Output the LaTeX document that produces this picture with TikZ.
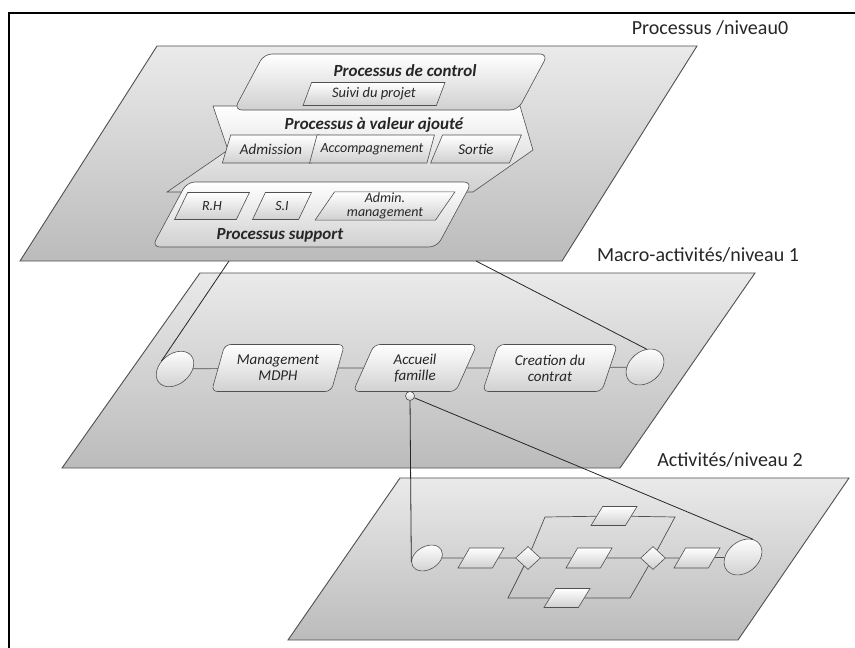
\documentclass[tikz,border=0pt]{standalone}
\usepackage{fontspec}
\setmainfont{Carlito}
\usetikzlibrary{shapes.geometric}

\definecolor{planelight}{HTML}{EAEAEA}
\definecolor{planedark}{HTML}{BBBBBB}
\definecolor{boxline}{HTML}{505050}
\definecolor{boxshade}{HTML}{D0D0D0}
\definecolor{txtgray}{HTML}{262626}

\tikzset{
  plane/.style={draw=boxline, line width=0.9pt, top color=planelight, bottom color=planedark},
  proc/.style={draw=boxline, line width=0.6pt, top color=white, bottom color=boxshade},
  link/.style={draw=black!85, line width=0.8pt},
  flow/.style={draw=boxline, line width=0.7pt},
  lvltext/.style={font=\fontsize{20}{24}\selectfont, text=txtgray},
  titletext/.style={font=\fontsize{17}{18}\selectfont\bfseries\itshape, text=txtgray},
  subbox/.style={proc, trapezium, trapezium left angle=62, trapezium right angle=118,
    trapezium stretches=true, inner sep=1pt, align=center,
    font=\fontsize{14}{14}\selectfont\itshape, text=txtgray},
  macrobox/.style={proc, trapezium, trapezium left angle=69, trapezium right angle=111,
    trapezium stretches=true, rounded corners=6pt, minimum height=47, inner sep=1pt,
    align=center, font=\fontsize{15}{16}\selectfont\itshape, text=txtgray},
  actbox/.style={proc, trapezium, trapezium left angle=63, trapezium right angle=117,
    trapezium stretches=true, minimum width=46, minimum height=20, inner sep=2pt},
  evt/.style={proc, ellipse, inner sep=0pt},
  gate/.style={proc, diamond, minimum width=25, minimum height=23, inner sep=0pt},
}

\begin{document}
\begin{tikzpicture}[x=1pt, y=-1pt]
\useasboundingbox (0,0) rectangle (855,648);
\clip (0,0) rectangle (855,648);
\draw[line width=2.2pt] (9,660) -- (9,13) -- (870,13);

% niveau 0
\draw[plane] (157,46) -- (697,46) -- (562,261) -- (20,261) -- cycle;
\node[lvltext] (lab0) at (710,28) {Processus /niveau0};
\draw[proc] (213,106) -- (520,106) -- (533,150) -- (473,192) -- (167,192) -- (228,150) -- cycle;
\draw[proc, rounded corners=8pt] (264,54) -- (548,54) -- (518,110) -- (234,110) -- cycle;
\draw[proc, rounded corners=8pt] (187,182) -- (472,182) -- (437,247) -- (152,247) -- cycle;
\node[titletext] (tctrl) at (405,71) {Processus de control};
\node[subbox, minimum width=143, minimum height=23, trapezium left angle=68,
  trapezium right angle=112, font=\fontsize{14.5}{15}\selectfont\itshape] (suivi) at (374,94) {Suivi du projet};
\node[titletext] (tval) at (374,125) {Processus à valeur ajouté};
\node[subbox, minimum width=98, minimum height=28, font=\fontsize{15}{15}\selectfont\itshape] (admis) at (271,149) {Admission};
\node[subbox, minimum width=125, minimum height=28] (accomp) at (372,149) {Accompagnement};
\node[subbox, minimum width=91, minimum height=28, font=\fontsize{15}{15}\selectfont\itshape] (sortie) at (476,149) {Sortie};
\node[subbox, minimum width=75, minimum height=27] (rh) at (212,206) {R.H};
\node[subbox, minimum width=59, minimum height=27] (si) at (282,206) {S.I};
\node[subbox, minimum width=140, minimum height=27] (admin) at (385,206) {Admin.\\management};
\node[titletext] (tsup) at (280,235) {Processus support};

% niveau 1
\draw[plane] (200,273) -- (755,273) -- (620,468) -- (62,468) -- cycle;
\node[lvltext] (lab1) at (698,255) {Macro-activités/niveau 1};
\node[evt, minimum width=42, minimum height=30, rotate=40] (mstart) at (175,369) {};
\node[macrobox, minimum width=133] (mdph) at (278,368) {Management\\MDPH};
\node[macrobox, minimum width=124] (accueil) at (415,368) {Accueil\\famille};
\node[macrobox, minimum width=135] (contrat) at (550,368) {Creation du\\contrat};
\node[evt, minimum width=42, minimum height=31, rotate=40] (mend) at (645,367) {};
\draw[flow] (mstart) -- (mdph) -- (accueil) -- (contrat) -- (mend);
\node[proc, circle, minimum size=9, inner sep=0pt] (hook) at (410,396) {};

% niveau 2
\draw[plane] (400,478) -- (849,478) -- (738,640) -- (288,640) -- cycle;
\node[lvltext] (lab2) at (730,460) {Activités/niveau 2};
\node[evt, minimum width=33, minimum height=23, rotate=30] (astart) at (427,558) {};
\node[actbox] (a1) at (481,558) {};
\node[gate] (gsplit) at (528,558) {};
\node[actbox] (a2) at (589,558) {};
\node[actbox, minimum height=19] (a3) at (614,516) {};
\node[actbox, minimum height=19] (a4) at (567,598) {};
\node[gate] (gjoin) at (653,558) {};
\node[actbox] (a5) at (697,558) {};
\node[evt, minimum width=42, minimum height=31, rotate=40] (aend) at (743,557) {};
\coordinate (c1) at (545,517);
\coordinate (c2) at (675,517);
\coordinate (c3) at (630,598);
\coordinate (c4) at (508,598);
\draw[flow] (astart) -- (a1) -- (gsplit) -- (a2) -- (gjoin) -- (a5) -- (aend);
\draw[flow] (gsplit) -- (c1) -- (a3) -- (c2) -- (gjoin);
\draw[flow] (gsplit) -- (c4) -- (a4) -- (c3) -- (gjoin);

% liens entre niveaux
\coordinate (t1l) at (229,261);
\coordinate (t1r) at (476,261);
\draw[link] (t1l) -- (mstart.110);
\draw[link] (t1r) -- (mend.45);
\draw[link] (hook) -- (astart.165);
\draw[link] (hook) -- (aend.20);
\end{tikzpicture}
\end{document}
